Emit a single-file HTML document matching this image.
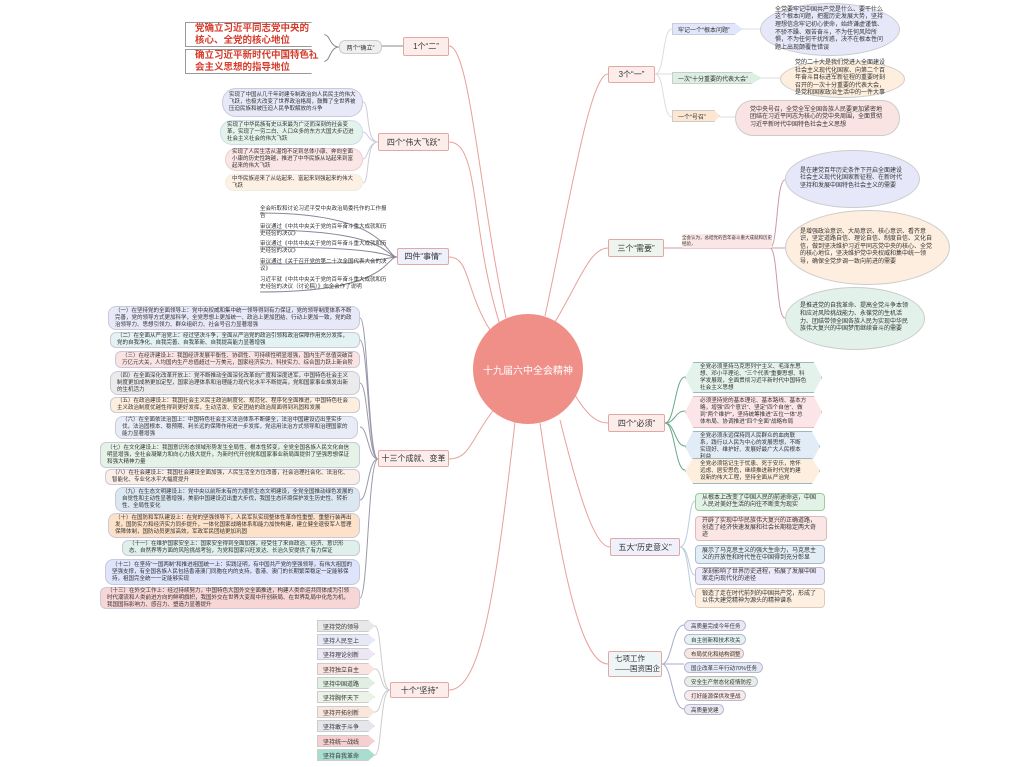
<!DOCTYPE html>
<html><head><meta charset="utf-8"><style>
body{margin:0;width:1024px;height:767px;background:#fff;position:relative;overflow:hidden;font-family:"Liberation Sans","Noto Sans CJK SC",sans-serif;}
.n{position:absolute;box-sizing:border-box;color:#333;display:flex;align-items:center;}
.b{border:1px solid #e2a9a4;background:#fcecea;justify-content:center;font-size:8px;color:#333;border-radius:2px;}
.t{font-size:5.5px;line-height:7px;padding:2px 6px;border:1px solid #c9c9d9;}
.r{border-radius:12px;}
.e{border-radius:50%;justify-content:center;padding:4px 14px;font-size:6px;line-height:7.6px;border:1px solid #ccc;}
.p{border-radius:7px;font-size:5.5px;padding:0 6px;border:1px solid #b9b9cc;height:11px;white-space:nowrap;}
.k{font-size:6px;padding:0 5px;height:12px;border:1px solid #ccc;white-space:nowrap;clip-path:polygon(0 0,88% 0,100% 50%,88% 100%,0 100%);}
.h{font-size:5.6px;line-height:7px;padding:2px 14px;border:1px solid #9bb;clip-path:polygon(6% 0,94% 0,100% 50%,94% 100%,6% 100%,0 50%);}
.red{border:1px solid #999;font-size:9.5px;font-weight:bold;color:#d63a2a;padding-left:9px;line-height:11.5px;white-space:nowrap;clip-path:polygon(0 0,90% 0,100% 50%,90% 100%,0 100%);}
</style></head><body>
<svg width="1024" height="767" style="position:absolute;left:0;top:0" fill="none" stroke="#e8a09a" stroke-width="1">
<path d="M506,318 C480,200 470,46 449,46"/>
<path d="M500,325 C470,230 480,142 449,142"/>
<path d="M490,330 C465,290 470,257 449,257"/>
<path d="M495,408 C470,440 470,459 449,459"/>
<path d="M515,422 C495,600 480,690 449,690"/>
<path d="M545,316 C570,200 590,74 608,74"/>
<path d="M555,322 C580,280 590,248 608,248"/>
<path d="M575,395 C590,420 600,423 608,423"/>
<path d="M560,420 C580,500 595,547 610,547"/>
<path d="M540,423 C560,560 580,664 608,664"/>
<path d="M449,46 H382 M339,47 C330,47 330,35 325,35 M339,47 C330,47 330,61 325,61" stroke="#888"/>
<path d="M378,142 C365,142 370,102 363,102 M378,142 C368,142 368,132 363,132 M378,142 C368,142 368,159 363,159 M378,142 C365,142 370,183 363,183" stroke="#ccd"/>
<path d="M397,257 C385,257 390,213 260,213 M397,257 C385,257 390,230 260,230 M397,257 C385,257 390,247 260,247 M397,257 C385,257 390,264 260,264 M397,257 C385,257 390,292 260,292" stroke="#889"/>
<path d="M378,459 C368,459 368,318 360,318 M378,459 C368,459 368,340 360,340 M378,459 C368,459 368,383 360,383 M378,459 C368,459 368,427 360,427 M378,459 C368,459 368,500 360,500 M378,459 C368,459 368,598 360,598" stroke="#99a"/>
<path d="M390,690 C380,690 382,626 375,626 M390,690 C380,690 382,669 375,669 M390,690 C380,690 382,712 375,712 M390,690 C380,690 382,755 375,755" stroke="#ccc"/>
<path d="M655,74 C665,74 662,29 672,29 M655,74 H672 M655,74 C665,74 662,117 672,117 M743,29 H760 M762,78 H780 M720,117 H735" stroke="#ddd"/>
<path d="M664,248 H770 C778,248 776,180 785,180 M770,248 H785 M770,248 C778,248 776,318 785,318" stroke="#c9a"/>
<path d="M665,423 C675,423 675,377 685,377 M665,423 C675,423 675,411 685,411 M665,423 C675,423 675,446 685,446 M665,423 C675,423 675,470 685,470" stroke="#6a8"/>
<path d="M680,547 C690,547 688,501 695,501 M680,547 C690,547 688,575 695,575 M680,547 C690,547 688,597 695,597" stroke="#bcd"/>
<path d="M662,664 C672,664 672,625 684,625 M662,664 H684 M662,664 C672,664 672,709 684,709" stroke="#aac"/>
</svg>
<div class="n" style="left:473px;top:314px;width:110px;height:110px;border-radius:50%;background:#ef8f88;color:#fff;justify-content:center;font-size:10px">十九届六中全会精神</div>

<div class="n red" style="left:185px;top:22px;width:140px;height:25px">党确立习近平同志党中央的<br>核心、全党的核心地位</div>
<div class="n red" style="left:185px;top:49px;width:140px;height:25px">确立习近平新时代中国特色社<br>会主义思想的指导地位</div>
<div class="n" style="left:339px;top:40px;width:43px;height:14px;background:#eef0ee;border:1px solid #ccc;border-radius:6px;font-size:6px;justify-content:center">两个“确立”</div>
<div class="n b" style="left:403px;top:37px;width:46px;height:19px">1个“二”</div>

<div class="n b" style="left:378px;top:133px;width:71px;height:18px">四个“伟大飞跃”</div>
<div class="n t r" style="left:222px;top:88px;width:141px;height:29px;background:#e7e9f9;border-radius:14px">实现了中国从几千年封建专制政治向人民民主的伟大飞跃，也极大改变了世界政治格局，鼓舞了全世界被压迫民族和被压迫人民争取解放的斗争</div>
<div class="n t r" style="left:220px;top:120px;width:143px;height:25px;background:#e4f2ec;border-color:#cde">实现了中华民族有史以来最为广泛而深刻的社会变革，实现了一穷二白、人口众多的东方大国大步迈进社会主义社会的伟大飞跃</div>
<div class="n t r" style="left:225px;top:148px;width:138px;height:23px;background:#fbe6e6;border-color:#ecc">实现了人民生活从温饱不足到总体小康、奔向全面小康的历史性跨越，推进了中华民族从站起来到富起来的伟大飞跃</div>
<div class="n t r" style="left:225px;top:174px;width:138px;height:17px;background:#fdf0e4;border-color:#eed">中华民族迎来了从站起来、富起来到强起来的伟大飞跃</div>

<div class="n b" style="left:397px;top:248px;width:52px;height:17px;background:#eef0fb">四件“事情”</div>
<div class="n" style="left:260px;top:204px;width:130px;height:17px;font-size:5.5px;line-height:7px">全会听取和讨论习近平受中央政治局委托作的工作报告</div>
<div class="n" style="left:260px;top:222px;width:130px;height:17px;font-size:5.5px;line-height:7px">审议通过《中共中央关于党的百年奋斗重大成就和历史经验的决议》</div>
<div class="n" style="left:260px;top:239px;width:130px;height:17px;font-size:5.5px;line-height:7px">审议通过《中共中央关于党的百年奋斗重大成就和历史经验的决议》</div>
<div class="n" style="left:260px;top:257px;width:130px;height:17px;font-size:5.5px;line-height:7px">审议通过《关于召开党的第二十次全国代表大会的决议》</div>
<div class="n" style="left:260px;top:275px;width:130px;height:17px;font-size:5.5px;line-height:7px">习近平就《中共中央关于党的百年奋斗重大成就和历史经验的决议（讨论稿）》向全会作了说明</div>

<div class="n b" style="left:378px;top:450px;width:71px;height:17px">十三个成就、变革</div>
<div class="n t" style="left:108px;top:306px;width:252px;height:24px;background:#e7e8f8;border-radius:8px">（一）在坚持党的全面领导上：党中央权威和集中统一领导得到有力保证，党的领导制度体系不断完善，党的领导方式更加科学，全党思想上更加统一、政治上更加团结、行动上更加一致，党的政治领导力、思想引领力、群众组织力、社会号召力显著增强</div>
<div class="n t" style="left:110px;top:332px;width:250px;height:16px;background:#e3f2f2;border-radius:6px">（二）在全面从严治党上：经过坚决斗争，全面从严治党的政治引领和政治保障作用充分发挥，党的自我净化、自我完善、自我革新、自我提高能力显著增强</div>
<div class="n t" style="left:115px;top:351px;width:245px;height:17px;background:#fbe3e3;border-radius:6px">（三）在经济建设上：我国经济发展平衡性、协调性、可持续性明显增强，国内生产总值突破百万亿元大关，人均国内生产总值超过一万美元，国家经济实力、科技实力、综合国力跃上新台阶</div>
<div class="n t" style="left:110px;top:371px;width:250px;height:24px;background:#ebebeb;border-radius:8px">（四）在全面深化改革开放上：党不断推动全面深化改革向广度和深度进军，中国特色社会主义制度更加成熟更加定型，国家治理体系和治理能力现代化水平不断提高，党和国家事业焕发出新的生机活力</div>
<div class="n t" style="left:110px;top:397px;width:250px;height:16px;background:#fdeedd;border-radius:6px">（五）在政治建设上：我国社会主义民主政治制度化、规范化、程序化全面推进，中国特色社会主义政治制度优越性得到更好发挥，生动活泼、安定团结的政治局面得到巩固和发展</div>
<div class="n t" style="left:115px;top:416px;width:243px;height:23px;background:#e8ecf6;border-radius:8px">（六）在全面依法治国上：中国特色社会主义法治体系不断健全，法治中国建设迈出坚实步伐，法治固根本、稳预期、利长远的保障作用进一步发挥，党运用法治方式领导和治理国家的能力显著增强</div>
<div class="n t" style="left:100px;top:442px;width:260px;height:26px;background:#e5f3e6;border-radius:6px">（七）在文化建设上：我国意识形态领域形势发生全局性、根本性转变，全党全国各族人民文化自信明显增强，全社会凝聚力和向心力极大提升，为新时代开创党和国家事业新局面提供了坚强思想保证和强大精神力量</div>
<div class="n t" style="left:105px;top:469px;width:255px;height:16px;background:#fbeee6;border-radius:6px">（八）在社会建设上：我国社会建设全面加强，人民生活全方位改善，社会治理社会化、法治化、智能化、专业化水平大幅度提升</div>
<div class="n t" style="left:115px;top:487px;width:245px;height:25px;background:#dbe8f2;border-radius:8px">（九）在生态文明建设上：党中央以前所未有的力度抓生态文明建设，全党全国推动绿色发展的自觉性和主动性显著增强，美丽中国建设迈出重大步伐，我国生态环境保护发生历史性、转折性、全局性变化</div>
<div class="n t" style="left:108px;top:513px;width:252px;height:25px;background:#fde2c9;border-radius:8px">（十）在国防和军队建设上：在党的坚强领导下，人民军队实现整体性革命性重塑、重整行装再出发，国防实力和经济实力同步提升，一体化国家战略体系和能力加快构建，建立健全退役军人管理保障体制，国防动员更加高效，军政军民团结更加巩固</div>
<div class="n t" style="left:122px;top:540px;width:238px;height:16px;background:#dff0ea;border-radius:6px">（十一）在维护国家安全上：国家安全得到全面加强，经受住了来自政治、经济、意识形态、自然界等方面的风险挑战考验，为党和国家兴旺发达、长治久安提供了有力保证</div>
<div class="n t" style="left:105px;top:559px;width:255px;height:26px;background:#dde4fb;border-radius:8px">（十二）在坚持“一国两制”和推进祖国统一上：实践证明，有中国共产党的坚强领导，有伟大祖国的坚强支撑，有全国各族人民包括香港澳门同胞在内的支持，香港、澳门的长期繁荣稳定一定能够保持，祖国完全统一一定能够实现</div>
<div class="n t" style="left:100px;top:587px;width:260px;height:22px;background:#f8d6d6;border-radius:6px">（十三）在外交工作上：经过持续努力，中国特色大国外交全面推进，构建人类命运共同体成为引领时代潮流和人类前进方向的鲜明旗帜，我国外交在世界大变局中开创新局、在世界乱局中化危为机，我国国际影响力、感召力、塑造力显著提升</div>

<div class="n b" style="left:390px;top:682px;width:59px;height:16px">十个“坚持”</div>
<div class="n k" style="left:317px;top:620px;width:58px;background:#e8e8e8">坚持党的领导</div>
<div class="n k" style="left:317px;top:634px;width:58px;background:#e8e9f8">坚持人民至上</div>
<div class="n k" style="left:317px;top:648px;width:58px;background:#ede6f5">坚持理论创新</div>
<div class="n k" style="left:317px;top:663px;width:58px;background:#fbe3e0">坚持独立自主</div>
<div class="n k" style="left:317px;top:677px;width:58px;background:#dff0e2">坚持中国道路</div>
<div class="n k" style="left:317px;top:691px;width:58px;background:#eaf3e6">坚持胸怀天下</div>
<div class="n k" style="left:317px;top:706px;width:58px;background:#fbe6dc">坚持开拓创新</div>
<div class="n k" style="left:317px;top:720px;width:58px;background:#e4e6ec">坚持敢于斗争</div>
<div class="n k" style="left:317px;top:735px;width:58px;background:#f6d0d0">坚持统一战线</div>
<div class="n k" style="left:317px;top:749px;width:58px;background:#a9ddd0">坚持自我革命</div>

<div class="n b" style="left:608px;top:66px;width:47px;height:17px">3个“一”</div>
<div class="n k" style="left:672px;top:23px;width:71px;background:#e2e6fa;border-color:#ccd">牢记一个“根本问题”</div>
<div class="n k" style="left:672px;top:72px;width:90px;background:#dcefe3">一次“十分重要的代表大会”</div>
<div class="n k" style="left:672px;top:110px;width:48px;background:#fde7d2">一个“号召”</div>
<div class="n e" style="left:760px;top:3px;width:140px;height:53px;background:#e6e8fa">全党要牢记中国共产党是什么、要干什么这个根本问题，把握历史发展大势，坚持理想信念牢记初心使命，始终谦虚谨慎、不骄不躁、艰苦奋斗，不为任何风险所惧，不为任何干扰所惑，决不在根本性问题上出现颠覆性错误</div>
<div class="n e" style="left:780px;top:60px;width:125px;height:38px;background:#fdeedd">党的二十大是我们党进入全面建设社会主义现代化国家、向第二个百年奋斗目标进军新征程的重要时刻召开的一次十分重要的代表大会，是党和国家政治生活中的一件大事</div>
<div class="n e" style="left:735px;top:100px;width:165px;height:36px;background:#fae3e3;border-radius:18px">党中央号召，全党全军全国各族人民要更加紧密地团结在习近平同志为核心的党中央周围，全面贯彻习近平新时代中国特色社会主义思想</div>

<div class="n b" style="left:608px;top:239px;width:56px;height:18px;background:#eef5ee">三个“需要”</div>
<div class="n" style="left:682px;top:234px;width:90px;height:14px;font-size:4.5px;line-height:6px;background:#fbe6e6">全会认为，总结党的百年奋斗重大成就和历史经验，</div>
<div class="n e" style="left:785px;top:150px;width:135px;height:58px;background:#e6e8fa">是在建党百年历史条件下开启全面建设社会主义现代化国家新征程、在新时代坚持和发展中国特色社会主义的需要</div>
<div class="n e" style="left:785px;top:210px;width:165px;height:75px;background:#fdeedf">是增强政治意识、大局意识、核心意识、看齐意识，坚定道路自信、理论自信、制度自信、文化自信，做到坚决维护习近平同志党中央的核心、全党的核心地位，坚决维护党中央权威和集中统一领导，确保全党步调一致向前进的需要</div>
<div class="n e" style="left:785px;top:287px;width:140px;height:63px;background:#e2f1ea">是推进党的自我革命、提高全党斗争本领和应对风险挑战能力、永葆党的生机活力、团结带领全国各族人民为实现中华民族伟大复兴的中国梦而继续奋斗的需要</div>

<div class="n b" style="left:608px;top:414px;width:57px;height:18px">四个“必须”</div>
<div class="n h" style="left:685px;top:362px;width:137px;height:31px;background:#e3f2ea">全党必须坚持马克思列宁主义、毛泽东思想、邓小平理论、“三个代表”重要思想、科学发展观，全面贯彻习近平新时代中国特色社会主义思想</div>
<div class="n h" style="left:685px;top:396px;width:137px;height:32px;background:#fbe5e8;border-color:#dbb">必须坚持党的基本理论、基本路线、基本方略，增强“四个意识”、坚定“四个自信”、做到“两个维护”，坚持统筹推进“五位一体”总体布局、协调推进“四个全面”战略布局</div>
<div class="n h" style="left:685px;top:431px;width:135px;height:31px;background:#e2ecf6">全党必须永远保持同人民群众的血肉联系，践行以人民为中心的发展思想，不断实现好、维护好、发展好最广大人民根本利益</div>
<div class="n h" style="left:685px;top:458px;width:135px;height:26px;background:#fdeedd">全党必须铭记生于忧患、死于安乐，常怀远虑、居安思危，继续推进新时代党的建设新的伟大工程，坚持全面从严治党</div>

<div class="n b" style="left:610px;top:538px;width:70px;height:18px;background:#eef0fb">五大“历史意义”</div>
<div class="n t" style="left:695px;top:493px;width:130px;height:18px;background:#e3f2e6;border-color:#9c9;border-radius:4px;font-size:6px">从根本上改变了中国人民的前途命运，中国人民对美好生活的向往不断变为现实</div>
<div class="n t" style="left:695px;top:516px;width:132px;height:25px;background:#fbe6e6;border-color:#dbb;border-radius:4px;font-size:6px">开辟了实现中华民族伟大复兴的正确道路，创造了经济快速发展和社会长期稳定两大奇迹</div>
<div class="n t" style="left:695px;top:545px;width:130px;height:19px;background:#e2eef6;border-color:#abc;border-radius:4px;font-size:6px">展示了马克思主义的强大生命力，马克思主义的开放性和时代性在中国得到充分彰显</div>
<div class="n t" style="left:695px;top:567px;width:130px;height:18px;background:#eceafa;border-color:#bbc;border-radius:4px;font-size:6px">深刻影响了世界历史进程，拓展了发展中国家走向现代化的途径</div>
<div class="n t" style="left:695px;top:588px;width:130px;height:20px;background:#fdf0e2;border-color:#dcb;border-radius:4px;font-size:6px">锻造了走在时代前列的中国共产党，形成了以伟大建党精神为源头的精神谱系</div>

<div class="n b" style="left:608px;top:651px;width:54px;height:26px;font-size:7.5px;line-height:10px;justify-content:flex-start;padding-left:6px;white-space:nowrap;background:#eef5f6">七项工作<br>——国资国企</div>
<div class="n p" style="left:684px;top:620px;width:62px;background:#ebe8f8">高质量完成今年任务</div>
<div class="n p" style="left:684px;top:634px;width:62px;background:#e3f2f2">自主创新和技术攻关</div>
<div class="n p" style="left:684px;top:648px;width:60px;background:#fbe6dd">布局优化和结构调整</div>
<div class="n p" style="left:684px;top:662px;width:79px;background:#e2e8f6">国企改革三年行动70%任务</div>
<div class="n p" style="left:684px;top:676px;width:74px;background:#e6eee6">安全生产常态化疫情防控</div>
<div class="n p" style="left:684px;top:690px;width:62px;background:#fbe8e8">打好能源保供攻坚战</div>
<div class="n p" style="left:684px;top:704px;width:40px;background:#eeeaf4">高质量党建</div>
</body></html>
